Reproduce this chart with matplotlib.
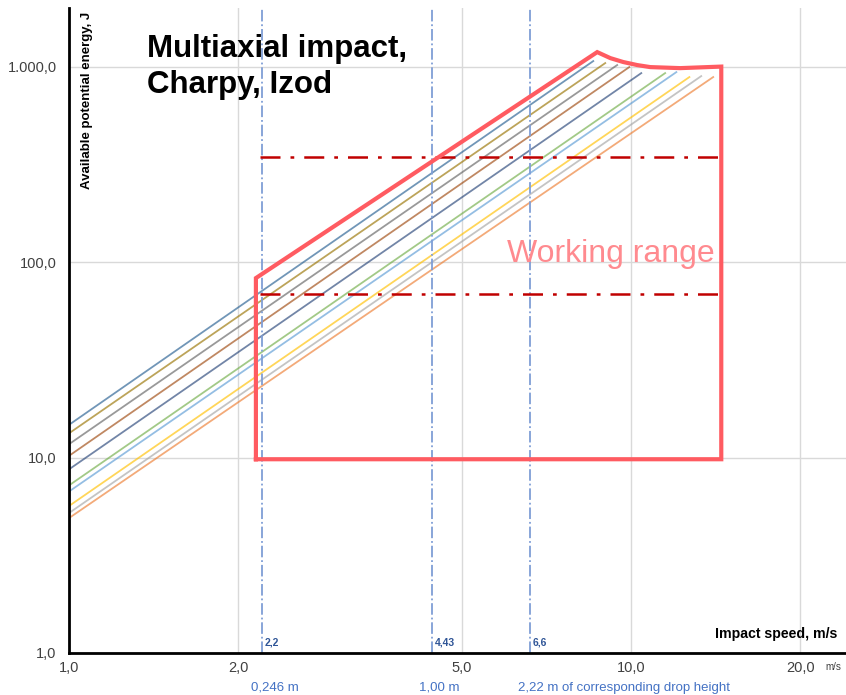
import matplotlib.pyplot as plt
from matplotlib.ticker import FixedLocator, FixedFormatter, NullLocator

# energy lines (E = 1/2 m v^2), straight on log-log: start and end points
line_colors = ['#255E91', '#997300', '#636363', '#9E480E', '#264478',
               '#70AD47', '#5B9BD5', '#FFC000', '#A5A5A5', '#ED7D31']
v_start = [1.0, 1.0, 1.0, 1.0, 1.0, 1.0, 1.0, 1.0, 1.0, 1.0]
e_start = [14.7, 13.3, 11.7, 10.2, 8.7, 7.2, 6.7, 5.65, 5.2, 4.9]
v_end = [8.56, 8.99, 9.44, 9.92, 10.42, 11.49, 12.03, 12.69, 13.32, 13.99]
e_end = [1067, 1042, 1018, 994, 926, 926, 937, 884, 894, 884]

# working range outline
range_v = [2.15, 2.15, 8.70, 9.18, 9.68, 10.25, 10.81, 12.22, 14.46, 14.46, 2.15]
range_e = [9.8, 82.8, 1186, 1105, 1055, 1018, 994, 982, 1000, 9.8, 9.8]

# horizontal limits (J) and vertical speed markers (m/s)
h_levels = [344, 68.6]
h_from, h_to = 2.19, 14.46
v_marks = [2.2, 4.43, 6.6]
v_mark_labels = ['2,2', '4,43', '6,6']
drop_labels = ['0,246 m', '1,00 m', '2,22 m of corresponding drop height']

x_ticks = [1, 2, 5, 10, 20]
x_ticklabels = ['1,0', '2,0', '5,0', '10,0', '20,0']
y_ticks = [1, 10, 100, 1000]
y_ticklabels = ['1,0', '10,0', '100,0', '1.000,0']

sans = ['Liberation Sans', 'DejaVu Sans']

fig = plt.figure(figsize=(8.46, 6.95), dpi=100)
ax = fig.add_axes([69 / 846, 42 / 695, 777 / 846, 645 / 695])
ax.set_xscale('log')
ax.set_yscale('log')
ax.set_xlim(1, 24.1)
ax.set_ylim(1, 1994)

ax.xaxis.set_major_locator(FixedLocator(x_ticks))
ax.xaxis.set_major_formatter(FixedFormatter(x_ticklabels))
ax.xaxis.set_minor_locator(NullLocator())
ax.yaxis.set_major_locator(FixedLocator(y_ticks))
ax.yaxis.set_major_formatter(FixedFormatter(y_ticklabels))
ax.yaxis.set_minor_locator(NullLocator())
ax.tick_params(length=0, labelsize=10.5, labelcolor='#404040', pad=6)
ax.tick_params(axis='y', pad=9)
for lab in ax.get_xticklabels() + ax.get_yticklabels():
    lab.set_family(sans)
ax.grid(True, color='#D9D9D9', linewidth=1)
ax.set_axisbelow(True)
for s in ['top', 'right']:
    ax.spines[s].set_visible(False)
for s in ['left', 'bottom']:
    ax.spines[s].set_linewidth(2)
    ax.spines[s].set_color('black')

for c, v0, e0, v1, e1 in zip(line_colors, v_start, e_start, v_end, e_end):
    ax.plot([v0, v1], [e0, e1], color=c, lw=1.3, alpha=0.65)

for v in v_marks:
    ax.axvline(v, color='#7F9ED6', lw=1.3, ls='-.')

for e in h_levels:
    ax.plot([h_from, h_to], [e, e], color='#C00000', lw=1.8, ls=(0, (8, 4, 1.5, 4)))

ax.plot(range_v, range_e, color='#FF5B61', lw=3, solid_joinstyle='miter')

fig.text(507 / 846, 1 - 262 / 695, 'Working range', fontsize=23,
         color='#FF8A8F', family=sans, va='baseline')

fig.text(147 / 846, 1 - 93 / 695, 'Multiaxial impact,\nCharpy, Izod',
         fontsize=22.5, fontweight='bold', family=sans, va='baseline',
         linespacing=1.28)

fig.text(87 / 846, 1 - 12 / 695, 'Available potential energy, J', rotation=90,
         fontsize=9.5, fontweight='bold', family=sans, ha='center', va='top')
fig.text(837 / 846, 1 - 638 / 695, 'Impact speed, m/s', fontsize=10.2,
         fontweight='bold', family=sans, ha='right', va='baseline')
fig.text(825 / 846, 1 - 670 / 695, 'm/s', fontsize=7, color='#404040',
         family=sans, ha='left', va='baseline')

for v, lab in zip(v_marks, v_mark_labels):
    ax.annotate(lab, (v, 1), xytext=(2, 4), textcoords='offset points',
                fontsize=7.5, fontweight='bold', color='#2F5597',
                family=sans, ha='left', va='bottom')

drop_x = [275, 439, 518]
drop_ha = ['center', 'center', 'left']
for x, lab, ha in zip(drop_x, drop_labels, drop_ha):
    fig.text(x / 846, 1 - 691 / 695, lab, fontsize=9.5, color='#4472C4',
             family=sans, ha=ha, va='baseline')

fig.savefig('out.png', dpi=100)
